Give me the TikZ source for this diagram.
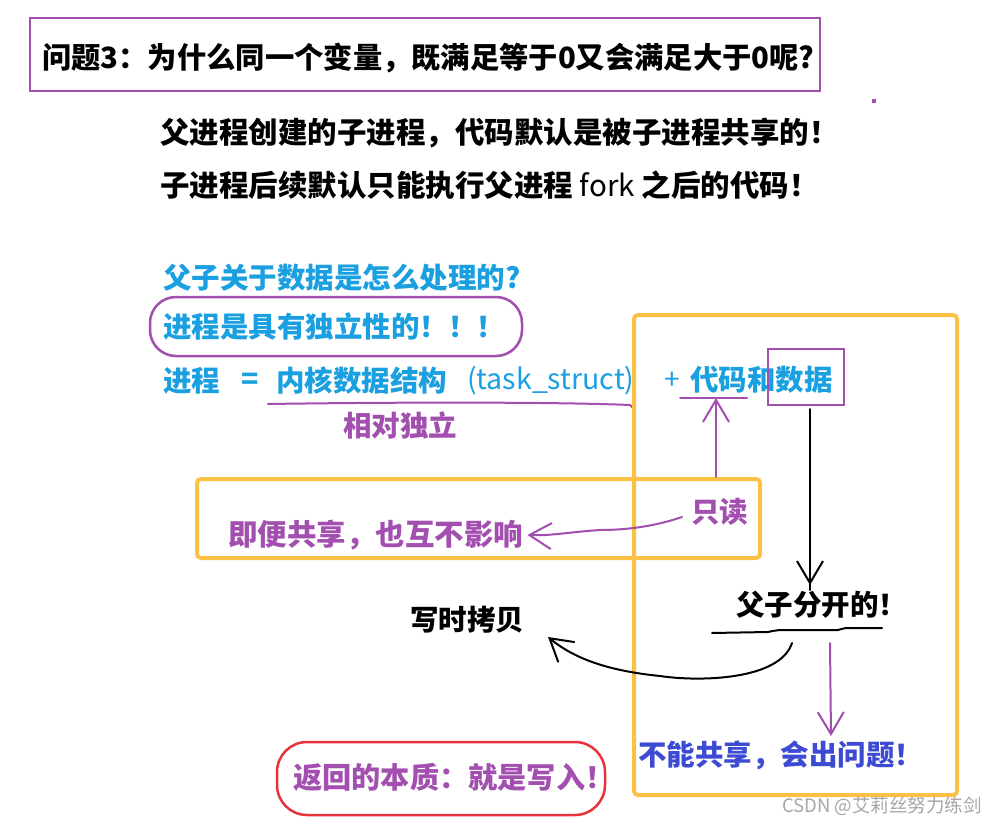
\documentclass[tikz,border=0pt]{standalone}
\usepackage{fontspec}
\setmainfont{Noto Sans CJK SC}
\usetikzlibrary{arrows.meta}
\definecolor{pur}{HTML}{A24FB0}
\definecolor{cy}{HTML}{1AA0E0}
\definecolor{org}{HTML}{FCC044}
\definecolor{bv}{HTML}{3D4BD3}
\definecolor{rd}{HTML}{E8323C}
\tikzset{
  txt/.style={inner sep=0pt, anchor=west, font=\fontsize{28.5}{30}\selectfont\bfseries},
  big/.style={font=\fontsize{29.5}{31}\selectfont\bfseries},
  pbox/.style={draw=pur, line width=2.5pt},
  obox/.style={draw=org, line width=4pt, rounded corners=4pt},
  hand/.style={line width=2pt, line cap=round, line join=round},
  barb/.style={-{Straight Barb[length=22pt,width=26pt,line width=2pt]}},
}
\begin{document}
\begin{tikzpicture}[x=1pt,y=-1pt]
\useasboundingbox (0,0) rectangle (989,825);
\fill[white] (0,0) rectangle (989,825);
% title
\draw[pbox] (30,18) rectangle (820,91);
\node[txt, font=\fontsize{29.3}{31}\selectfont\bfseries] (title) at (42,58) {问题3：为什么同一个变量，既满足等于0又会满足大于0呢?};
\fill[pur] (872,99) rectangle (876,103);
% lines
\node[txt, big] (l1) at (160,133) {父进程创建的子进程，代码默认是被子进程共享的！};
\node[txt, big] (l2) at (160,185) {子进程后续默认只能执行父进程 {\mdseries fork} 之后的代码！};
% blue
\node[txt, text=cy] (q) at (163,278) {父子关于数据是怎么处理的?};
\draw[draw=pur, line width=2.5pt, rounded corners=26pt] (150,297) rectangle (522,356);
\node[txt, text=cy] (indep) at (163,327) {进程是具有独立性的！！！};
\node[txt, text=cy] (proc) at (163,381) {进程};
\node[txt, text=cy, anchor=center] (eq) at (250,381) {=};
\node[txt, text=cy] (kern) at (276,381) {内核数据结构};
\node[txt, text=cy, font=\fontsize{28.5}{30}\selectfont\mdseries] (ts) at (467,381) {(task\_struct)};
\node[txt, text=cy, anchor=center, font=\fontsize{28}{30}\selectfont\mdseries] (plus) at (672,381) {+};
\node[txt, text=cy] (code) at (690,380) {代码和数据};
\draw[pur, hand] (268,404) .. controls (400,402) and (560,402) .. (630,405) -- (633,408);
\node[txt, text=pur] (rel) at (343,425) {相对独立};
\draw[pbox] (768,349) rectangle (844,405);
\coordinate (cu) at (716,398);
\draw[pur, hand] (680,398) -- (747,398);
% orange boxes
\draw[obox] (634,315) rectangle (957,795);
\draw[obox] (197,479) rectangle (760,558);
\node[txt, text=pur] (ro) at (691,512) {只读};
\node[txt, text=pur, big] (share) at (228,535) {即便共享，也互不影响};
\draw[pur, hand, barb] (716,477) -- (cu);
\draw[pur, hand, barb] (682,517) .. controls (650,528) and (620,530) .. (600,530) .. controls (570,532) and (550,536) .. ([xshift=4pt]share.east);
% black
\node[txt] (sep) at (736,605) {父子分开的！};
\draw[black, hand] (810,409) -- (810,590);
\draw[black, hand, barb] (810,560) -- (810,585);
\draw[black, hand] (712,633) -- (768,632) .. controls (772,631) .. (780,630) -- (838,630) .. controls (845,628) .. (852,628) -- (882,628);
\node[txt] (cow) at (410,620) {写时拷贝};
\coordinate (cs) at (792,643);
\draw[black, hand, barb] (cs) .. controls (780,680) and (700,682) .. (660,676) .. controls (600,670) and (570,655) .. (548,637);
\coordinate (ps) at (830,643);
\draw[pur, hand, barb] (ps) -- (831,736);
\node[txt, text=bv] (bad) at (638,755) {不能共享，会出问题！};
% red
\draw[draw=rd, line width=2.5pt, rounded corners=30pt] (277,742) rectangle (605,815);
\node[txt, text=pur, font=\fontsize{29.2}{31}\selectfont\bfseries] (ess) at (293,777) {返回的本质：就是写入！};
\node[inner sep=0pt, anchor=west, text=black!35, font=\fontsize{18.5}{20}\selectfont] (wm) at (782,806) {CSDN @艾莉丝努力练剑};
\end{tikzpicture}
\end{document}
